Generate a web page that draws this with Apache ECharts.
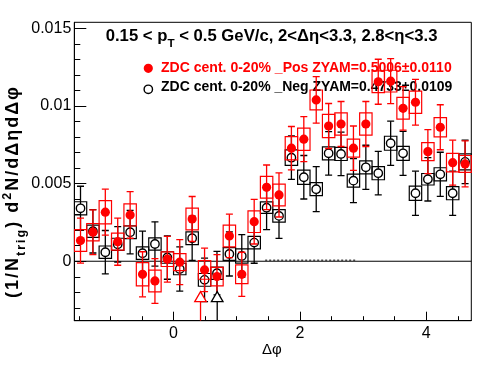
<!DOCTYPE html>
<html><head><meta charset="utf-8">
<script src="https://cdn.jsdelivr.net/npm/echarts@6/dist/echarts.min.js"></script>
<style>html,body{margin:0;padding:0;background:#fff}#c{width:496px;height:374px}</style>
</head><body><div id="c"></div>
<script>
const PI = Math.PI;
const xMin = -PI / 2, xMax = 3 * PI / 2;
const yMin = -0.00383, yMax = 0.01539;
const binWidth = PI / 16;

const binCenters = [-1.4726,-1.2763,-1.0799,-0.8836,-0.6872,-0.4909,-0.2945,-0.0982,0.0982,0.2945,0.4909,0.6872,0.8836,1.0799,1.2763,1.4726,1.6690,1.8653,2.0617,2.2580,2.4544,2.6507,2.8471,3.0434,3.2398,3.4361,3.6325,3.8288,4.0252,4.2215,4.4179,4.6142];

const posValues = [0.00133,0.00187,0.00316,0.00126,0.00298,-0.00084,-0.00127,0.00013,-0.00006,0.00272,-0.00056,-0.00099,0.00163,-0.00084,0.00255,0.00476,0.00427,0.00728,0.00786,0.01039,0.00871,0.00884,0.00728,0.00884,0.01156,0.01160,0.00985,0.01024,0.00706,0.00863,0.00635,0.00627];
const posStatErr = [0.00145,0.00144,0.00148,0.00152,0.00150,0.00145,0.00144,0.00147,0.00145,0.00145,0.00140,0.00142,0.00140,0.00142,0.00144,0.00144,0.00142,0.00140,0.00145,0.00150,0.00145,0.00145,0.00143,0.00145,0.00145,0.00145,0.00140,0.00147,0.00142,0.00145,0.00145,0.00148];
const posSysErr = [0.00070,0.00056,0.00075,0.00055,0.00071,0.00075,0.00070,0.00047,0.00055,0.00070,0.00060,0.00060,0.00070,0.00060,0.00070,0.00070,0.00070,0.00075,0.00072,0.00064,0.00075,0.00072,0.00058,0.00072,0.00070,0.00070,0.00070,0.00072,0.00058,0.00062,0.00060,0.00054];

const negValues = [0.00341,0.00193,0.00058,0.00109,0.00187,0.00052,0.00111,0.00024,-0.00050,0.00148,-0.00120,-0.00077,0.00047,0.00034,0.00120,0.00345,0.00292,0.00667,0.00541,0.00464,0.00695,0.00691,0.00519,0.00605,0.00567,0.00760,0.00695,0.00438,0.00528,0.00560,0.00438,0.00640];
const negStatErr = [0.00142,0.00140,0.00140,0.00114,0.00140,0.00142,0.00143,0.00140,0.00142,0.00142,0.00140,0.00140,0.00142,0.00137,0.00133,0.00142,0.00145,0.00140,0.00140,0.00145,0.00140,0.00140,0.00142,0.00142,0.00140,0.00142,0.00142,0.00142,0.00140,0.00142,0.00142,0.00140];
const negSysErr = [0.00042,0.00039,0.00040,0.00039,0.00041,0.00040,0.00039,0.00037,0.00037,0.00041,0.00041,0.00040,0.00041,0.00046,0.00040,0.00037,0.00040,0.00050,0.00046,0.00042,0.00042,0.00042,0.00042,0.00042,0.00042,0.00045,0.00045,0.00046,0.00037,0.00042,0.00042,0.00052];

const xMajorTicks = [0, 2, 4];
const xMinorTicks = [-1.5, -1, -0.5, 0.5, 1, 1.5, 2.5, 3, 3.5, 4.5];
const yMajorTicks = [0, 0.005, 0.01, 0.015];
const yMinorTicks = [-0.003,-0.002,-0.001,0.001,0.002,0.003,0.004,0.006,0.007,0.008,0.009,0.011,0.012,0.013,0.014];

const zeroLine = [[xMin, 0], [xMax, 0]];
const dottedLine = [[1.45, 0.00007], [2.90, 0.00007]];
const arrowX = [0.427, 0.691];
const arrowTipY = [-0.00196, -0.00196];
const arrowColors = ['#ff0000', '#000000'];

const titleSegs = [
  {t: '0.15 < p', s: 1, dy: 0},
  {t: 'T', s: 0.7, dy: 0.38},
  {t: ' < 0.5 GeV/c, 2<\u0394\u03b7<3.3, 2.8<\u03b7<3.3', s: 1, dy: 0}
];
const legendPos = 'ZDC cent. 0-20% _Pos ZYAM=0.5006\u00b10.0110';
const legendNeg = 'ZDC cent. 0-20% _Neg ZYAM=0.4733\u00b10.0109';
const yTitleSegs = [
  {t: '(1/N', s: 1, dy: 0},
  {t: 'trig', s: 0.7, dy: 0.35},
  {t: ')', s: 1, dy: 0},
  {t: ' d', s: 1, dy: 0},
  {t: '2', s: 0.7, dy: -0.42},
  {t: 'N/d\u0394\u03b7d\u0394\u03c6', s: 1, dy: 0}
];
const xTitle = '\u0394\u03c6';

const FONT = '"Liberation Sans", Arial, Helvetica, sans-serif';
const mctx = document.createElement('canvas').getContext('2d');
function tw(t, size, bold) { mctx.font = (bold ? 'bold ' : '') + size + 'px ' + FONT; return mctx.measureText(t).width; }

function textEl(t, x, base, f, bold, color) {
  return {type: 'text', x: x, y: base - 0.35 * f,
    style: {text: t, font: (bold ? 'bold ' : '') + f + 'px ' + FONT, fill: color,
      align: 'left', verticalAlign: 'middle', textAlign: 'left', textVerticalAlign: 'middle'}};
}

function lineEls(segs, size, bold, color, targetWidth) {
  let total = 0;
  segs.forEach(s => { total += tw(s.t, size * s.s, bold); });
  const fs = targetWidth ? size * targetWidth / total : size;
  let x = 0;
  const els = [];
  segs.forEach(s => {
    const f = fs * s.s;
    els.push(textEl(s.t, x, s.dy * fs, f, bold, color));
    x += tw(s.t, f, bold);
  });
  return els;
}

function spreadEls(segs, size, bold, color, targetWidth) {
  const chars = [];
  segs.forEach(s => { for (const ch of s.t) chars.push({ch, f: size * s.s, base: s.dy * size}); });
  let total = 0;
  chars.forEach(c => { c.w = tw(c.ch, c.f, bold); total += c.w; });
  const extra = Math.max(0, (targetWidth - total) / (chars.length - 1));
  let x = 0;
  const els = [];
  chars.forEach(c => {
    if (c.ch !== ' ') els.push(textEl(c.ch, x, c.base, c.f, bold, color));
    x += c.w + extra;
  });
  return els;
}

function makeRender(color, filled) {
  return function (params, api) {
    const x = api.value(0), y = api.value(1), e = api.value(2), s = api.value(3);
    const c = api.coord([x, y]);
    const top = api.coord([x, y + e])[1], bot = api.coord([x, y - e])[1];
    const sTop = api.coord([x, y + s])[1], sBot = api.coord([x, y - s])[1];
    const w = api.size([binWidth, 0])[0];
    const cap = 3.5, r = filled ? 4.6 : 4.2;
    return {type: 'group', children: [
      {type: 'rect', shape: {x: c[0] - w / 2, y: sTop, width: w, height: sBot - sTop},
        style: {fill: 'none', stroke: color, lineWidth: 1.2}},
      {type: 'line', shape: {x1: c[0], y1: top, x2: c[0], y2: bot}, style: {stroke: color, lineWidth: 1.3}},
      {type: 'line', shape: {x1: c[0] - cap, y1: top, x2: c[0] + cap, y2: top}, style: {stroke: color, lineWidth: 1.3}},
      {type: 'line', shape: {x1: c[0] - cap, y1: bot, x2: c[0] + cap, y2: bot}, style: {stroke: color, lineWidth: 1.3}},
      {type: 'circle', shape: {cx: c[0], cy: c[1], r: r},
        style: filled ? {fill: color} : {fill: '#fff', stroke: color, lineWidth: 1.4}}
    ]};
  };
}

function arrowRender(params, api) {
  const x = api.value(0), tip = api.value(1);
  const color = arrowColors[params.dataIndex];
  const t = api.coord([x, tip]);
  const b = api.coord([x, yMin]);
  const h = 10, hw = 5.8;
  return {type: 'group', children: [
    {type: 'line', shape: {x1: t[0], y1: t[1] + h, x2: t[0], y2: b[1]}, style: {stroke: color, lineWidth: 1.3}},
    {type: 'polygon', shape: {points: [[t[0], t[1]], [t[0] - hw, t[1] + h], [t[0] + hw, t[1] + h]]},
      style: {fill: '#fff', stroke: color, lineWidth: 1.3}}
  ]};
}

const chart = echarts.init(document.getElementById('c'), null, {renderer: 'canvas'});

const gridL = 74.3, gridT = 22.3, gridR = 471.3, gridB = 320.7;
const axisLabelFont = {color: '#000', fontSize: 16, fontFamily: FONT};

const titleEls = lineEls(titleSegs, 16, true, '#000', 332);
const legPosEls = lineEls([{t: legendPos, s: 1, dy: 0}], 12, true, '#ff0000', 291);
const legNegEls = lineEls([{t: legendNeg, s: 1, dy: 0}], 12, true, '#000', 291.5);
const yTitleEls = spreadEls(yTitleSegs, 18, true, '#000', 211);
const xTitleEls = lineEls([{t: xTitle, s: 1, dy: 0}], 15, false, '#000', 0);

const option = {
  animation: false,
  backgroundColor: '#fff',
  grid: {left: gridL, top: gridT, width: gridR - gridL, height: gridB - gridT,
    show: true, borderColor: '#000', borderWidth: 1, backgroundColor: 'transparent'},
  xAxis: [{
    type: 'value', min: xMin, max: xMax, position: 'bottom',
    axisLine: {show: true, onZero: false, lineStyle: {color: '#000', width: 1}},
    axisTick: {show: true, inside: true, length: 9, customValues: xMajorTicks, lineStyle: {color: '#000', width: 1}},
    axisLabel: Object.assign({customValues: xMajorTicks, margin: 5, formatter: v => String(v)}, axisLabelFont),
    splitLine: {show: false}
  }, {
    type: 'value', min: xMin, max: xMax, position: 'bottom',
    axisLine: {show: false, onZero: false},
    axisTick: {show: true, inside: true, length: 4.5, customValues: xMinorTicks, lineStyle: {color: '#000', width: 1}},
    axisLabel: {show: false},
    splitLine: {show: false}
  }],
  yAxis: [{
    type: 'value', min: yMin, max: yMax, position: 'left',
    axisLine: {show: true, onZero: false, lineStyle: {color: '#000', width: 1}},
    axisTick: {show: true, inside: true, length: 12, customValues: yMajorTicks, lineStyle: {color: '#000', width: 1}},
    axisLabel: Object.assign({customValues: yMajorTicks, margin: 3,
      formatter: v => (Math.abs(v) < 1e-12 ? '0' : String(+v.toFixed(4)))}, axisLabelFont),
    splitLine: {show: false}
  }, {
    type: 'value', min: yMin, max: yMax, position: 'left',
    axisLine: {show: false, onZero: false},
    axisTick: {show: true, inside: true, length: 6, customValues: yMinorTicks, lineStyle: {color: '#000', width: 1}},
    axisLabel: {show: false},
    splitLine: {show: false}
  }],
  series: [
    {type: 'line', data: zeroLine, symbol: 'none', silent: true, lineStyle: {color: '#000', width: 1}, z: 1},
    {type: 'line', data: dottedLine, symbol: 'none', silent: true, lineStyle: {color: '#000', width: 1, type: [2, 2]}, z: 1},
    {type: 'custom', clip: true, renderItem: makeRender('#000000', false),
      data: binCenters.map((x, i) => [x, negValues[i], negStatErr[i], negSysErr[i]]), z: 2},
    {type: 'custom', clip: true, renderItem: makeRender('#ff0000', true),
      data: binCenters.map((x, i) => [x, posValues[i], posStatErr[i], posSysErr[i]]), z: 3},
    {type: 'custom', clip: true, renderItem: arrowRender,
      data: arrowX.map((x, i) => [x, arrowTipY[i]]), z: 4}
  ],
  graphic: [
    {type: 'group', x: 105.7, y: 42, children: titleEls, z: 10},
    {type: 'circle', shape: {cx: 148.3, cy: 68.3, r: 4.6}, style: {fill: '#ff0000'}, z: 10},
    {type: 'circle', shape: {cx: 148.3, cy: 89.3, r: 4.2}, style: {fill: '#fff', stroke: '#000', lineWidth: 1.4}, z: 10},
    {type: 'group', x: 161, y: 72.7, children: legPosEls, z: 10},
    {type: 'group', x: 161, y: 92.3, children: legNegEls, z: 10},
    {type: 'group', x: 19.5, y: 298, rotation: Math.PI / 2, children: yTitleEls, z: 10},
    {type: 'group', x: 262, y: 355, children: xTitleEls, z: 10}
  ]
};
chart.setOption(option);
</script>
</body></html>
